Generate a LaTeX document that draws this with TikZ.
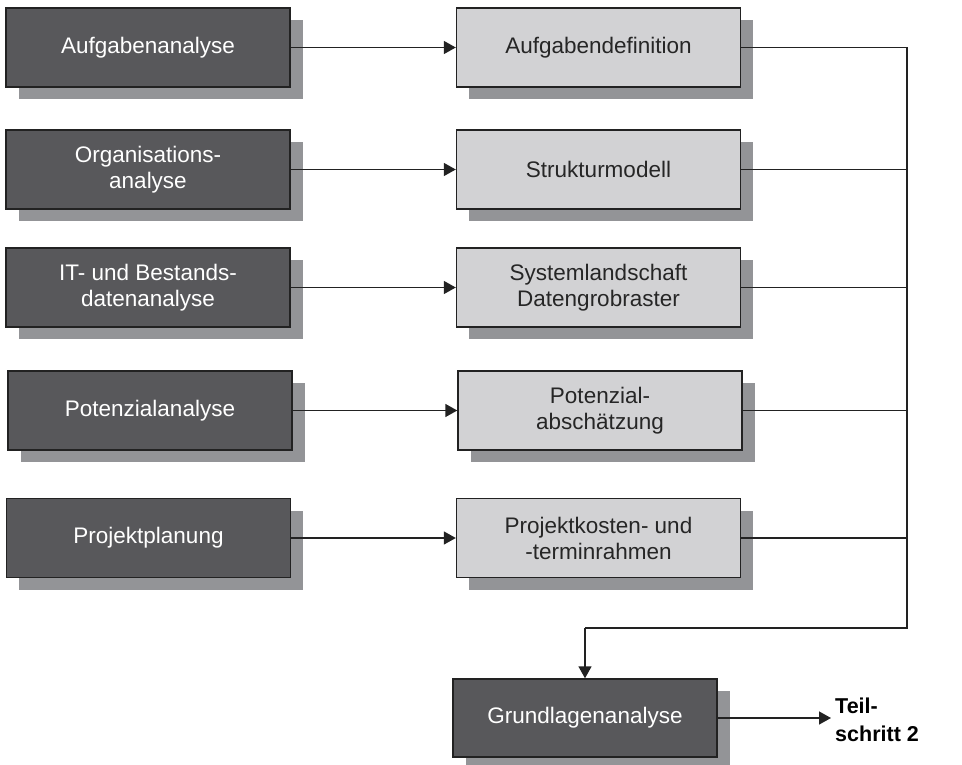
\documentclass[tikz,border=0pt]{standalone}
\usepackage{fontspec}
\setmainfont{Liberation Sans}
\usetikzlibrary{arrows.meta,shadows,calc}
\definecolor{darkfill}{HTML}{58585B}
\definecolor{lightfill}{HTML}{D2D2D4}
\definecolor{shadegray}{HTML}{939497}
\definecolor{linecol}{HTML}{222222}
\tikzset{
  boxbase/.style={draw=linecol, line width=1.4pt, minimum width=284pt, minimum height=79pt,
    inner sep=0pt, align=center, font=\fontsize{22.5}{26}\selectfont,
    drop shadow={shadow xshift=12.5pt, shadow yshift=-12pt, fill=shadegray, opacity=1}},
  darkbox/.style={boxbase, fill=darkfill, text=white},
  lightbox/.style={boxbase, fill=lightfill, text=black!85},
  conn/.style={draw=linecol, line width=1.5pt},
  arr/.style={conn, -{Triangle[length=12pt,width=13pt]}}
}
\begin{document}
\begin{tikzpicture}[x=1pt,y=-1pt]
\useasboundingbox (0,0) rectangle (962,765);
% left column
\node[darkbox] (a1) at (148,47.5) {Aufgabenanalyse};
\node[darkbox] (a2) at (148,169.5) {Organisations-\\analyse};
\node[darkbox] (a3) at (148,287.5) {IT- und Bestands-\\datenanalyse};
\node[darkbox] (a4) at (150,410.5) {Potenzialanalyse};
\node[darkbox] (a5) at (148.5,538) {Projektplanung};
% right column
\node[lightbox] (b1) at (598.5,47.5) {Aufgabendefinition};
\node[lightbox] (b2) at (598.5,169.5) {Strukturmodell};
\node[lightbox] (b3) at (598.5,287.5) {Systemlandschaft\\Datengrobraster};
\node[lightbox] (b4) at (600,410.5) {Potenzial-\\abschätzung};
\node[lightbox] (b5) at (598.5,538) {Projektkosten- und\\-terminrahmen};
% result
\node[darkbox, minimum width=264pt, minimum height=78pt] (g) at (585,718) {Grundlagenanalyse};
\coordinate (tip) at (831,718);
\node[anchor=west, align=left, inner sep=0pt, font=\bfseries\fontsize{21.5}{28}\selectfont] (t) at (835,720) {Teil-\\schritt 2};
% connectors
\foreach \i in {1,...,5}{
  \draw[arr] (a\i.east) -- (b\i.west);
}
\coordinate (bus) at (907,47.5);
\coordinate (busb) at (907,628);
\coordinate (turn) at (585,628);
\foreach \i in {1,...,5}{
  \draw[conn] (b\i.east) -- (b\i.east -| bus);
}
\draw[conn] (bus) -- (busb) -- (turn);
\draw[arr] (turn) -- (g.north);
\draw[arr] (g.east) -- (tip);
\end{tikzpicture}
\end{document}
